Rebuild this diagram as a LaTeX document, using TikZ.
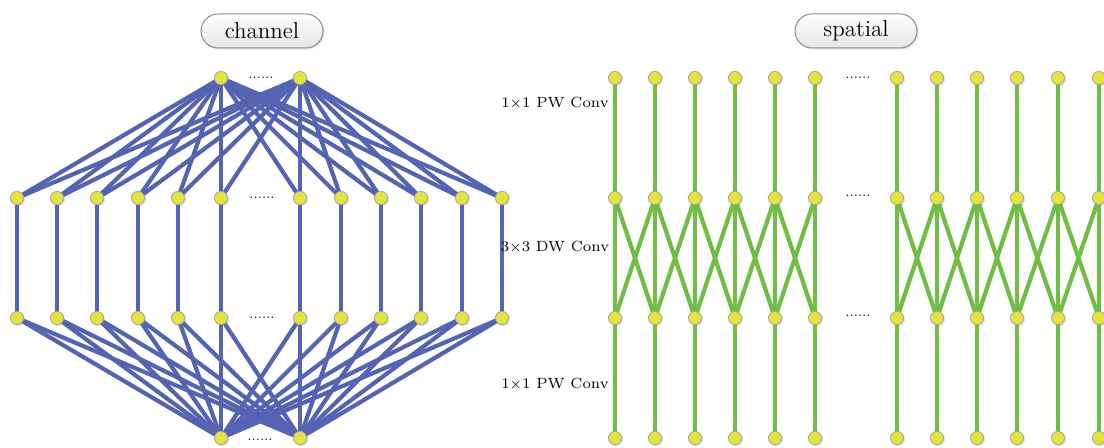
\documentclass[tikz,border=0pt]{standalone}
\usepackage{amsmath}
\usepackage{tikz}
\usetikzlibrary{shadows, backgrounds}
\definecolor{chblue}{RGB}{84,100,178}
\definecolor{spgreen}{RGB}{112,190,68}
\definecolor{unityel}{RGB}{228,228,60}
\tikzset{
  unit/.style = {
    circle, draw=black!35, fill=unityel,
    inner sep=0pt, minimum size=6.6pt, line width=0.4pt,
    drop shadow={shadow xshift=0.7pt, shadow yshift=-0.7pt, opacity=0.25}
  },
  tag/.style = {
    rectangle, rounded corners=8.5pt, draw=black!45, line width=0.5pt,
    top color=white, bottom color=black!10,
    minimum width=61pt, minimum height=17pt,
    font=\fontsize{11.5}{13}\selectfont,
    drop shadow={shadow xshift=0.8pt, shadow yshift=-0.8pt, opacity=0.2}
  },
  lbl/.style  = {font=\fontsize{7.4}{9}\selectfont, inner sep=0pt},
  dots/.style = {font=\fontsize{6.5}{7}\selectfont, inner sep=0pt},
  chline/.style = {line width=2.1pt, chblue},
  spline/.style = {line width=2.1pt, spgreen}
}

\begin{document}
\begin{tikzpicture}[x=0.5pt, y=-0.5pt]

\useasboundingbox (0,0) rectangle (1104,448);
\clip (0,0) rectangle (1104,448);

% headers
\node[tag] (chtag) at (262,31) {channel};
\node[tag] (sptag) at (856,31) {spatial};

% channel side
\node[unit] (t1) at (221,78) {};
\node[unit] (t2) at (300,78) {};
\node[unit] (u1) at (221,438) {};
\node[unit] (u2) at (300,438) {};
\foreach \i/\x in {1/17, 2/57, 3/97, 4/138, 5/178, 6/221,
                   7/300, 8/341, 9/381, 10/421, 11/462, 12/502} {
  \node[unit] (a\i) at (\x,198) {};
  \node[unit] (b\i) at (\x,318) {};
}
\node[dots] (cd1) at (261,78)  {......};
\node[dots] (cd2) at (262,198) {......};
\node[dots] (cd3) at (262,318) {......};
\node[dots] (cd4) at (260,440) {......};

% spatial side
\foreach \i/\x in {1/615, 2/655, 3/695, 4/735, 5/775, 6/815,
                   7/897, 8/937, 9/977, 10/1017, 11/1058, 12/1099} {
  \node[unit] (p\i) at (\x,78) {};
  \node[unit] (q\i) at (\x,198) {};
  \node[unit] (r\i) at (\x,318) {};
  \node[unit] (s\i) at (\x,438) {};
}
\node[dots] (sd1) at (858,78)  {......};
\node[dots] (sd2) at (858,196) {......};
\node[dots] (sd3) at (858,316) {......};

\node[lbl] (pw1) at (555,103) {1$\times$1 PW Conv};
\node[lbl] (dw)  at (555,247) {3$\times$3 DW Conv};
\node[lbl] (pw2) at (555,384) {1$\times$1 PW Conv};

\begin{scope}[on background layer]
  \foreach \i in {1,...,12} {
    \draw[chline] (t1.center) -- (a\i.center);
    \draw[chline] (t2.center) -- (a\i.center);
    \draw[chline] (a\i.center) -- (b\i.center);
    \draw[chline] (b\i.center) -- (u1.center);
    \draw[chline] (b\i.center) -- (u2.center);
    \draw[spline] (p\i.center) -- (q\i.center) -- (r\i.center) -- (s\i.center);
  }
  \foreach \i/\j in {1/2, 2/3, 3/4, 4/5, 5/6, 7/8, 8/9, 9/10, 10/11, 11/12} {
    \draw[spline] (q\i.center) -- (r\j.center);
    \draw[spline] (q\j.center) -- (r\i.center);
  }
\end{scope}

\end{tikzpicture}
\end{document}
